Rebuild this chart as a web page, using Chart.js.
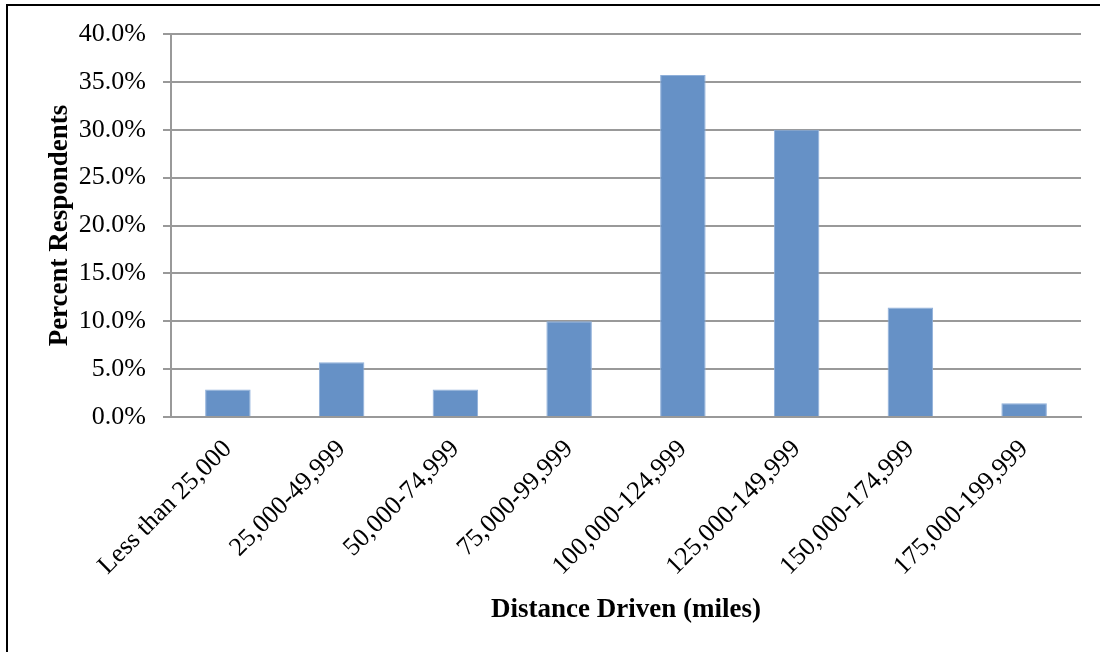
<!DOCTYPE html>
<html>
<head>
<meta charset="utf-8">
<script src="https://cdn.jsdelivr.net/npm/chart.js@4"></script>
<style>
  body { margin: 0; background: #fff; }
  canvas { display: block; }
</style>
</head>
<body>
<canvas id="distanceChart" width="1100" height="652"></canvas>
<script>
const categories = ['Less than 25,000', '25,000-49,999', '50,000-74,999', '75,000-99,999',
    '100,000-124,999', '125,000-149,999', '150,000-174,999', '175,000-199,999'];
const percentValues = [2.86, 5.71, 2.86, 10.0, 35.71, 30.0, 11.43, 1.43];
const yTicks = [0, 5, 10, 15, 20, 25, 30, 35, 40];

const serif = "'Liberation Serif', 'Times New Roman', serif";

// Frame round the picture (left and top edge)
const framePlugin = {
    id: 'frame',
    beforeDraw: (chart) => {
        const ctx = chart.ctx;
        ctx.save();
        ctx.fillStyle = '#fff';
        ctx.fillRect(0, 0, chart.width, chart.height);
        ctx.strokeStyle = '#000';
        ctx.lineWidth = 2;
        ctx.beginPath();
        ctx.moveTo(7, chart.height);
        ctx.lineTo(7, 5);
        ctx.lineTo(chart.width, 5);
        ctx.stroke();
        ctx.restore();
    }
};

const initChart = () => {
    const el = document.getElementById('distanceChart');

    new Chart(el, {
        type: 'bar',
        data: {
            labels: categories,
            datasets: [{
                label: 'Percent Respondents',
                data: percentValues,
                backgroundColor: '#6691c6',
                borderColor: '#8fb0da',
                borderWidth: 1,
                barPercentage: 0.4,
                categoryPercentage: 1.0
            }]
        },
        options: {
            responsive: false,
            animation: false,
            layout: {
                padding: { left: 8, top: 34, right: 19, bottom: 0 }
            },
            plugins: {
                legend: { display: false },
                tooltip: { enabled: false }
            },
            scales: {
                x: {
                    grid: { display: false },
                    border: { display: true, color: '#999', width: 2 },
                    ticks: {
                        color: '#000',
                        font: { family: serif, size: 26 },
                        minRotation: 45,
                        maxRotation: 45,
                        padding: 9
                    },
                    title: {
                        display: true,
                        text: 'Distance Driven (miles)',
                        color: '#000',
                        font: { family: serif, size: 27, weight: 'bold' },
                        padding: { top: 0, bottom: 26 }
                    },
                    afterFit: (scale) => { scale.height = 235; }
                },
                y: {
                    min: 0,
                    max: 40,
                    afterBuildTicks: (scale) => {
                        scale.ticks = yTicks.map(v => ({ value: v }));
                    },
                    grid: { color: '#999', lineWidth: 2, tickLength: 8 },
                    border: { display: true, color: '#999', width: 2 },
                    ticks: {
                        color: '#000',
                        font: { family: serif, size: 26 },
                        padding: 17,
                        callback: (v) => v.toFixed(1) + '%'
                    },
                    title: {
                        display: true,
                        text: 'Percent Respondents',
                        color: '#000',
                        font: { family: serif, size: 27, weight: 'bold' },
                        padding: { top: 36, bottom: 0 }
                    },
                    afterFit: (scale) => { scale.width = 163; }
                }
            }
        },
        plugins: [framePlugin]
    });
};

document.addEventListener('DOMContentLoaded', initChart);
</script>
</body>
</html>
